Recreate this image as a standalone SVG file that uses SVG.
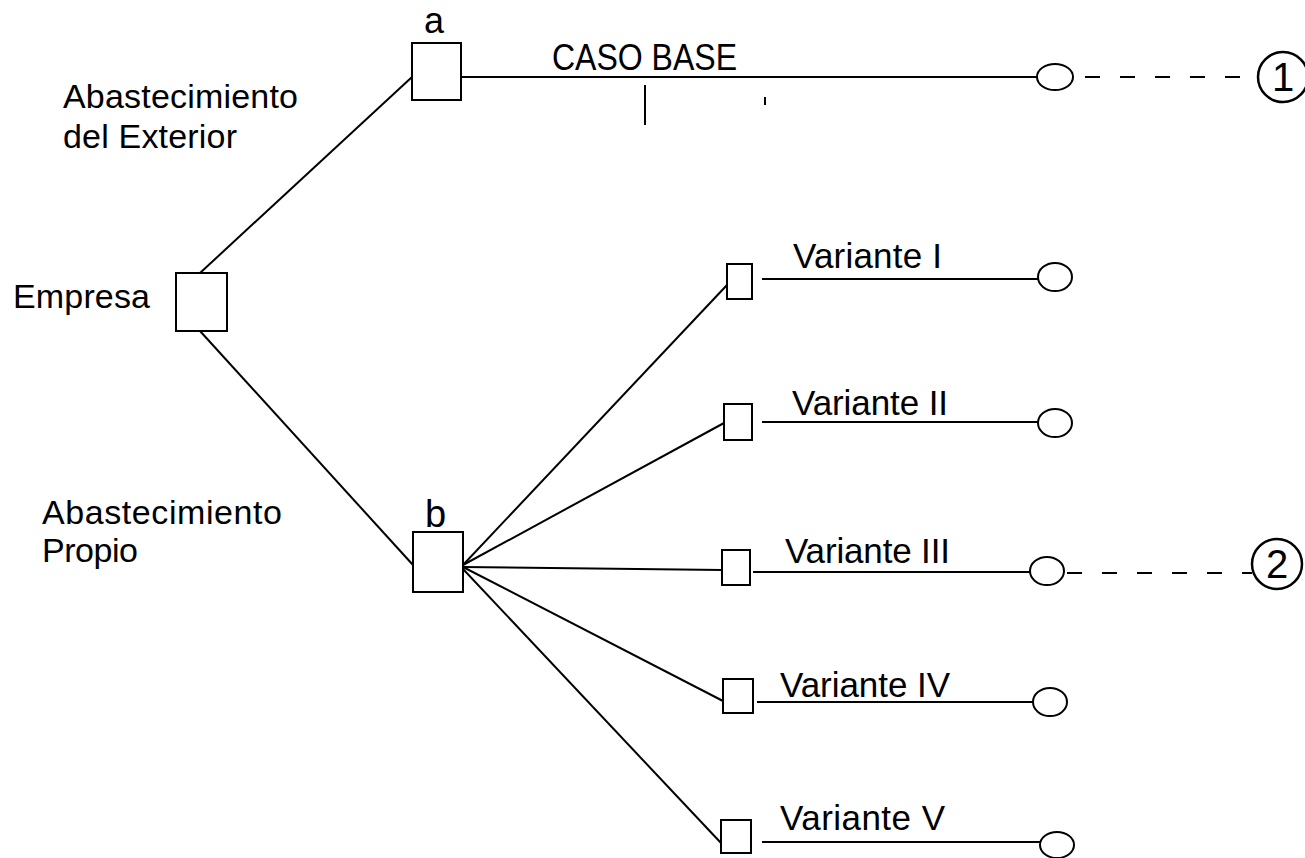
<svg xmlns="http://www.w3.org/2000/svg" width="1305" height="858" viewBox="0 0 1305 858">
<style>
text{font-family:"Liberation Sans",Arial,sans-serif;fill:#000}
.lbl{font-size:34px}
.var{font-size:35px}
.num{font-size:40px}
.box{fill:#fff;stroke:#000;stroke-width:2}
.end{fill:#fff;stroke:#000;stroke-width:2}
.res{fill:#fff;stroke:#000;stroke-width:2.5}
.ln{stroke:#000;stroke-width:2;fill:none}
.dash{stroke:#000;stroke-width:2;fill:none;stroke-dasharray:15 20}
</style>
<rect width="1305" height="858" fill="#fff"/>
<g id="connectors">
<line class="ln" x1="200" y1="273" x2="412" y2="77"/>
<line class="ln" x1="200" y1="331" x2="413" y2="565"/>
<line class="ln" x1="461" y1="77" x2="1037" y2="77"/>
<line class="ln" x1="463" y1="565" x2="727" y2="285"/>
<line class="ln" x1="463" y1="565" x2="724" y2="423"/>
<line class="ln" x1="463" y1="567" x2="722" y2="570"/>
<line class="ln" x1="463" y1="567" x2="723" y2="701"/>
<line class="ln" x1="463" y1="569" x2="721" y2="843"/>
<line class="ln" x1="762" y1="279" x2="1038" y2="279"/>
<line class="ln" x1="762" y1="422" x2="1038" y2="422"/>
<line class="ln" x1="753" y1="572" x2="1030" y2="572"/>
<line class="ln" x1="757" y1="702" x2="1033" y2="702"/>
<line class="ln" x1="762" y1="842" x2="1040" y2="842"/>
<line class="dash" x1="1085" y1="77" x2="1258" y2="77"/>
<line class="dash" x1="1067" y1="573" x2="1252" y2="573"/>
</g>
<g id="empresa">
<rect class="box" x="176" y="273" width="51" height="58"/>
<text class="lbl" x="13" y="308" textLength="137">Empresa</text>
</g>
<g id="label-exterior">
<text class="lbl" x="63" y="108" textLength="235">Abastecimiento</text>
<text class="lbl" x="63" y="148" textLength="174">del Exterior</text>
</g>
<g id="label-propio">
<text class="lbl" x="42" y="524" textLength="240">Abastecimiento</text>
<text class="lbl" x="42" y="562" textLength="96">Propio</text>
</g>
<g id="node-a">
<rect class="box" x="412" y="43" width="49" height="57"/>
<text x="424" y="33" style="font-size:36px">a</text>
</g>
<g id="node-b">
<rect class="box" x="413" y="532" width="50" height="60"/>
<text x="425" y="527" style="font-size:38px">b</text>
</g>
<g id="caso-base">
<text x="552" y="70" style="font-size:37px" textLength="185" lengthAdjust="spacingAndGlyphs">CASO BASE</text>
<ellipse class="end" cx="1055" cy="77" rx="18" ry="13"/>
</g>
<g id="result-1">
<circle class="res" cx="1283" cy="77" r="25"/>
<text class="num" x="1283" y="91" text-anchor="middle">1</text>
</g>
<g id="variante-1">
<rect class="box" x="727" y="264" width="25" height="35"/>
<text class="var" x="793" y="268" textLength="149">Variante I</text>
<ellipse class="end" cx="1055" cy="277" rx="17" ry="14"/>
</g>
<g id="variante-2">
<rect class="box" x="724" y="404" width="28" height="36"/>
<text class="var" x="792" y="415" textLength="156">Variante II</text>
<ellipse class="end" cx="1055" cy="423" rx="17" ry="14"/>
</g>
<g id="variante-3">
<rect class="box" x="722" y="550" width="28" height="35"/>
<text class="var" x="785" y="563" textLength="165">Variante III</text>
<ellipse class="end" cx="1047" cy="571" rx="17" ry="14"/>
</g>
<g id="result-2">
<circle class="res" cx="1277" cy="564" r="25"/>
<text class="num" x="1277" y="578" text-anchor="middle">2</text>
</g>
<g id="variante-4">
<rect class="box" x="723" y="679" width="30" height="34"/>
<text class="var" x="780" y="697" textLength="170">Variante IV</text>
<ellipse class="end" cx="1050" cy="702" rx="17" ry="14"/>
</g>
<g id="variante-5">
<rect class="box" x="721" y="820" width="30" height="33"/>
<text class="var" x="780" y="830" textLength="165">Variante V</text>
<ellipse class="end" cx="1057" cy="845" rx="17" ry="13"/>
</g>
<g id="marks">
<line class="ln" x1="645" y1="85" x2="645" y2="125"/>
<line x1="765" y1="97" x2="765" y2="105" stroke="#000" stroke-width="2"/>
</g>
</svg>
